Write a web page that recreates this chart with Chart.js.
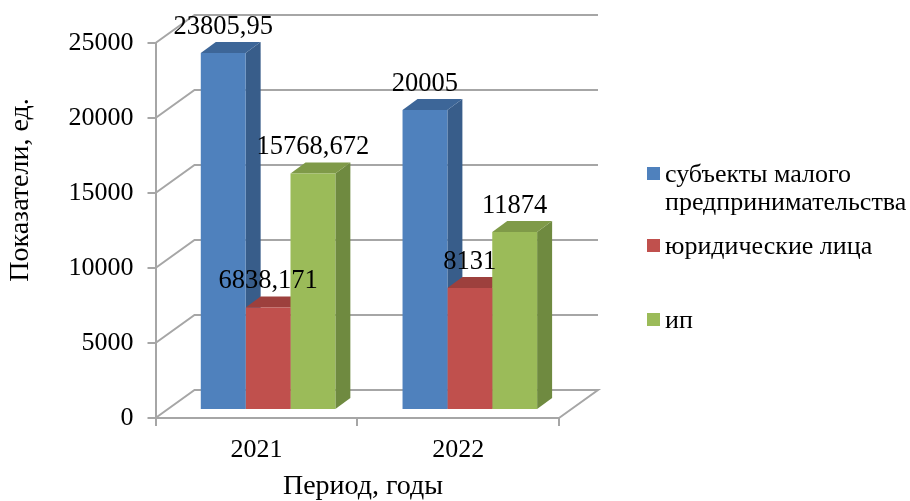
<!DOCTYPE html>
<html>
<head>
<meta charset="utf-8">
<style>
    body { margin: 0; background: #fff; }
    #wrap { width: 910px; height: 501px; }
</style>
<script src="https://cdn.jsdelivr.net/npm/chart.js@4"></script>
</head>
<body>
<div id="wrap"><canvas id="chart" width="910" height="501"></canvas></div>
<script>
    // Data
    var categories = ["2021", "2022"];
    var small = [23805.95, 20005];
    var legal = [6838.171, 8131];
    var ip = [15768.672, 11874];
    var smallText = ["23805,95", "20005"];
    var legalText = ["6838,171", "8131"];
    var ipText = ["15768,672", "11874"];
    var seriesNames = ["субъекты малого предпринимательства", "юридические лица", "ип"];
    var legendLines = [["субъекты малого", "предпринимательства"], ["юридические лица"], ["ип"]];
    var yTitle = "Показатели, ед.";
    var xTitle = "Период, годы";

    var FONT = "'Liberation Serif', 'Times New Roman', serif";
    var GRID = "#a6a6a6";
    var front = ["#4f81bd", "#c0504d", "#9bbb59"];
    var side = ["#385d8a", "#8a3a38", "#6f8a40"];
    var top3d = ["#3d6698", "#9d403d", "#7f9a48"];

    // Bars stand in the middle of the box floor
    var BAR_SHIFT = { x: 11.7, y: -8 };
    var BAR_DEPTH = { x: 15, y: -11 };
    var WALL_DEPTH = { x: 39, y: -28 };

    var box3d = {
        id: "box3d",
        afterDatasetsUpdate: function (chart) {
            chart.data.datasets.forEach(function (ds, i) {
                chart.getDatasetMeta(i).data.forEach(function (el) {
                    el.x += BAR_SHIFT.x;
                    el.y += BAR_SHIFT.y;
                    el.base += BAR_SHIFT.y;
                });
            });
        },
        beforeDatasetsDraw: function (chart) {
            var ctx = chart.ctx, yS = chart.scales.y, a = chart.chartArea;
            ctx.save();
            // walls and floor
            ctx.strokeStyle = GRID;
            ctx.lineWidth = 2;
            yS.ticks.forEach(function (t) {
                var py = yS.getPixelForValue(t.value);
                ctx.beginPath();
                ctx.moveTo(a.left, py);
                ctx.lineTo(a.left + WALL_DEPTH.x, py + WALL_DEPTH.y);
                ctx.lineTo(a.right + WALL_DEPTH.x, py + WALL_DEPTH.y);
                if (t.value === 0) ctx.lineTo(a.right, py);
                ctx.stroke();
            });
            // side and top faces, before all the fronts
            chart.data.datasets.forEach(function (ds, i) {
                chart.getDatasetMeta(i).data.forEach(function (el) {
                    var l = el.x - el.width / 2, r = el.x + el.width / 2;
                    ctx.fillStyle = side[i];
                    ctx.beginPath();
                    ctx.moveTo(r, el.y);
                    ctx.lineTo(r + BAR_DEPTH.x, el.y + BAR_DEPTH.y);
                    ctx.lineTo(r + BAR_DEPTH.x, el.base + BAR_DEPTH.y);
                    ctx.lineTo(r, el.base);
                    ctx.closePath();
                    ctx.fill();
                    ctx.fillStyle = top3d[i];
                    ctx.beginPath();
                    ctx.moveTo(l, el.y);
                    ctx.lineTo(l + BAR_DEPTH.x, el.y + BAR_DEPTH.y);
                    ctx.lineTo(r + BAR_DEPTH.x, el.y + BAR_DEPTH.y);
                    ctx.lineTo(r, el.y);
                    ctx.closePath();
                    ctx.fill();
                });
            });
            ctx.restore();
        },
        afterDatasetsDraw: function (chart) {
            var ctx = chart.ctx;
            ctx.save();
            ctx.fillStyle = "#000";
            ctx.textAlign = "center";
            ctx.textBaseline = "middle";

            // value labels
            ctx.font = "26.5px " + FONT;
            chart.data.datasets.forEach(function (ds, i) {
                chart.getDatasetMeta(i).data.forEach(function (el, j) {
                    ctx.fillText(ds.valueText[j], el.x, el.y - 26);
                });
            });

            // axis titles
            ctx.font = "28px " + FONT;
            ctx.fillText(xTitle, 363, 487);
            ctx.save();
            ctx.translate(21, 190);
            ctx.rotate(-Math.PI / 2);
            ctx.fillText(yTitle, 0, 0);
            ctx.restore();

            // legend
            var legendY = [175, 247, 321];
            ctx.font = "26px " + FONT;
            ctx.textAlign = "left";
            legendLines.forEach(function (lines, i) {
                ctx.fillStyle = front[i];
                ctx.fillRect(647, legendY[i] - 8, 13, 13);
                ctx.fillStyle = "#000";
                lines.forEach(function (line, n) {
                    ctx.fillText(line, 665, legendY[i] + n * 28);
                });
            });
            ctx.restore();
        }
    };

    function makeSet(i, values, texts) {
        return {
            label: seriesNames[i],
            data: values,
            valueText: texts,
            backgroundColor: front[i],
            borderWidth: 0
        };
    }

    new Chart(document.getElementById("chart").getContext("2d"), {
        type: "bar",
        data: {
            labels: categories,
            datasets: [
                makeSet(0, small, smallText),
                makeSet(1, legal, legalText),
                makeSet(2, ip, ipText)
            ]
        },
        plugins: [box3d],
        options: {
            responsive: false,
            animation: false,
            categoryPercentage: 0.667,
            barPercentage: 1,
            layout: { padding: { left: 0, top: 43, right: 351, bottom: 0 } },
            plugins: { legend: { display: false }, tooltip: { enabled: false } },
            scales: {
                x: {
                    afterFit: function (s) { s.height = 83; },
                    border: { color: GRID, width: 2 },
                    grid: { drawOnChartArea: false, color: GRID, lineWidth: 2, tickLength: 8 },
                    ticks: { color: "#000", padding: 9, maxRotation: 0, font: { family: FONT, size: 26 } }
                },
                y: {
                    min: 0,
                    max: 25000,
                    afterFit: function (s) { s.width = 155.5; },
                    border: { color: GRID, width: 2 },
                    grid: { drawOnChartArea: false, color: GRID, lineWidth: 2, tickLength: 8 },
                    ticks: {
                        stepSize: 5000,
                        color: "#000",
                        padding: 14,
                        font: { family: FONT, size: 26 },
                        callback: function (v) { return String(v); }
                    }
                }
            }
        }
    });
</script>
</body>
</html>
